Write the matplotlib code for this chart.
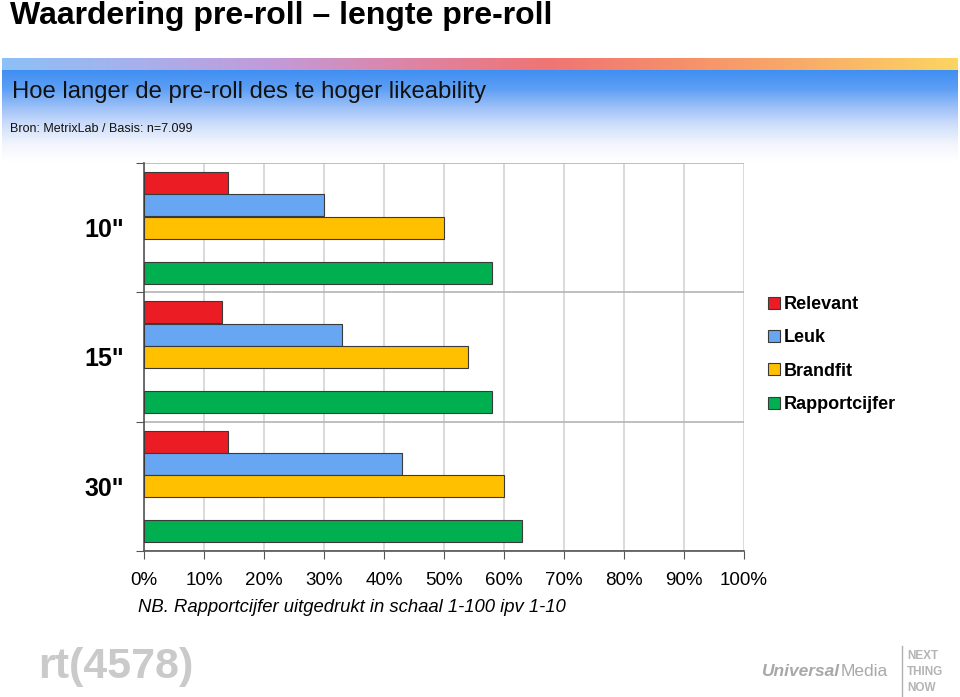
import matplotlib
matplotlib.use("Agg")
import matplotlib.pyplot as plt
import numpy as np
from matplotlib.patches import Patch
from matplotlib.colors import LinearSegmentedColormap

plt.rcParams['font.family'] = ['Liberation Sans', 'DejaVu Sans']

# data
lengths = ['10"', '15"', '30"']
series = ['Relevant', 'Leuk', 'Brandfit', 'Rapportcijfer']
relevant = [14, 13, 14]
leuk = [30, 33, 43]
brandfit = [50, 54, 60]
rapportcijfer = [58, 58, 63]
xticks = [0, 10, 20, 30, 40, 50, 60, 70, 80, 90, 100]

colors = ['#ec1c24', '#66a6f2', '#ffc000', '#00b050']
W, H = 960, 697

fig = plt.figure(figsize=(W / 100, H / 100), dpi=100)

# background header decoration
bg = fig.add_axes([0, 0, 1, 1], zorder=-10)
bg.set_xlim(0, W)
bg.set_ylim(H, 0)
bg.axis('off')
stripe_cmap = LinearSegmentedColormap.from_list(
    'stripe', ['#8cc0f6', '#a8b0ec', '#c39ad8', '#de84a4', '#f07474',
               '#f6906a', '#f9b068', '#fcd462'])
bg.imshow(np.linspace(0, 1, 256)[None, :], cmap=stripe_cmap, aspect='auto',
          extent=(2, 958, 70, 58), zorder=1)
band_cmap = LinearSegmentedColormap.from_list(
    'band', ['#3f8ff2', '#5c9ef4', '#9cc0f8', '#cfdffa', '#f2f5fd', '#ffffff'])
bg.imshow(np.linspace(0, 1, 256)[:, None], cmap=band_cmap, aspect='auto',
          extent=(2, 958, 162, 70), zorder=1)

fig.text(10 / W, 1 - 16 / H, 'Waardering pre-roll \u2013 lengte pre-roll',
         fontsize=23, fontweight='bold', va='center', ha='left')
fig.text(12 / W, 1 - 92 / H, 'Hoe langer de pre-roll des te hoger likeability',
         fontsize=17.2, va='center', ha='left', color='#111111')
fig.text(10 / W, 1 - 129 / H, 'Bron: MetrixLab / Basis: n=7.099',
         fontsize=9, va='center', ha='left', color='#111111')

# main chart
ax = fig.add_axes([144 / W, 1 - 551 / H, 600 / W, (551 - 163) / H])
values = [relevant, leuk, brandfit, rapportcijfer]
offsets = [0.07, 0.243, 0.416, 0.762]
bar_h = 0.17
for vals, off, col in zip(values, offsets, colors):
    ypos = np.arange(len(lengths)) + off + bar_h / 2
    ax.barh(ypos, vals, height=bar_h, color=col, edgecolor='#3a3a3a',
            linewidth=0.8, zorder=3)

ax.set_xlim(0, 100)
ax.set_ylim(len(lengths), 0)
ax.set_xticks(xticks)
ax.set_xticklabels([f'{t}%' for t in xticks], fontsize=13.5)
ax.set_yticks(np.arange(len(lengths) + 1))
ax.set_yticklabels([])
ax.set_yticks(np.arange(len(lengths)) + 0.5, minor=True)
ax.set_yticklabels(lengths, minor=True, fontsize=18, fontweight='bold')
ax.tick_params(axis='y', which='minor', length=0, pad=14)
ax.tick_params(axis='y', which='major', length=6, color='#555555', direction='out')
ax.tick_params(axis='x', length=6, color='#555555', pad=9)
ax.grid(axis='x', color='#d4d4d4', linewidth=1.2, zorder=0)
ax.grid(axis='y', which='major', color='#b4b4b4', linewidth=1.2, zorder=0)
for side in ['top', 'right']:
    ax.spines[side].set_visible(False)
for side in ['left', 'bottom']:
    ax.spines[side].set_color('#555555')
    ax.spines[side].set_linewidth(1.2)

handles = [Patch(facecolor=c, edgecolor='#3a3a3a', linewidth=0.8) for c in colors]
fig.legend(handles, series, loc='upper left',
           bbox_to_anchor=(752 / W, 1 - 280 / H), frameon=False,
           handlelength=0.65, handleheight=0.65, handletextpad=0.2,
           labelspacing=0.9, prop={'size': 13, 'weight': 'bold'})

fig.text(138 / W, 1 - 608 / H,
         'NB. Rapportcijfer uitgedrukt in schaal 1-100 ipv 1-10',
         fontsize=13.3, style='italic', va='center', ha='left')

# footer logos
fig.text(38 / W, 1 - 667 / H, 'rt(4578)', fontsize=31, fontweight='bold',
         color='#cacaca', va='center', ha='left')
fig.text(762 / W, 1 - 671 / H, 'Universal', fontsize=12.5, fontweight='bold',
         style='italic', color='#a8a8a8', va='center', ha='left')
fig.text(841 / W, 1 - 671 / H, 'Media', fontsize=12.5, color='#a8a8a8',
         va='center', ha='left')
bg.plot([902, 902], [646, 697], color='#b0b0b0', linewidth=1, zorder=2)
for i, word in enumerate(['NEXT', 'THING', 'NOW']):
    fig.text(907 / W, 1 - (656 + i * 16) / H, word, fontsize=8.5,
             fontweight='bold', color='#b4b4b4', va='center', ha='left')

fig.savefig('out.png', dpi=100)
